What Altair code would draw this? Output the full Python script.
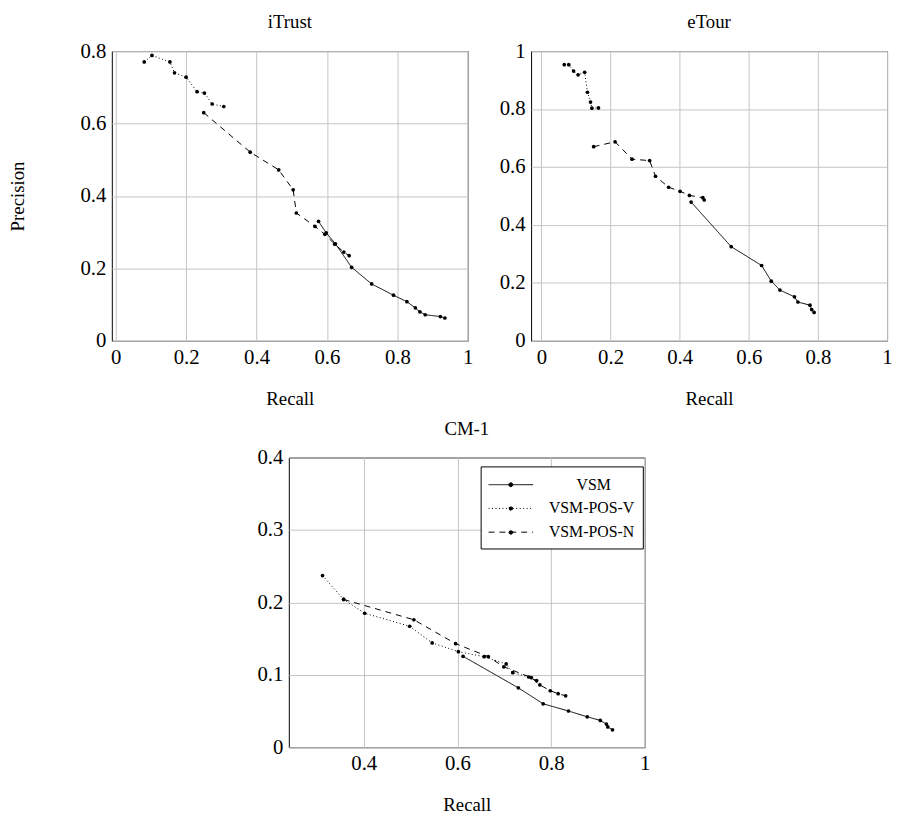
import altair as alt
import pandas as pd

series_names = ["VSM", "VSM-POS-V", "VSM-POS-N"]

# ---------------- iTrust ----------------
itrust_vsm_recall = [0.576, 0.598, 0.624, 0.670, 0.727, 0.789, 0.827, 0.851, 0.864, 0.879, 0.922, 0.935]
itrust_vsm_precision = [0.330, 0.298, 0.268, 0.203, 0.157, 0.126, 0.108, 0.091, 0.080, 0.072, 0.067, 0.063]
itrust_posv_recall = [0.081, 0.103, 0.154, 0.167, 0.200, 0.231, 0.252, 0.274, 0.307]
itrust_posv_precision = [0.770, 0.788, 0.770, 0.740, 0.728, 0.688, 0.684, 0.654, 0.647]
itrust_posn_recall = [0.250, 0.382, 0.463, 0.504, 0.513, 0.566, 0.594, 0.622, 0.648, 0.663]
itrust_posn_precision = [0.630, 0.521, 0.472, 0.417, 0.353, 0.316, 0.294, 0.267, 0.245, 0.235]

# ---------------- eTour ----------------
etour_vsm_recall = [0.433, 0.549, 0.637, 0.665, 0.690, 0.732, 0.742, 0.777, 0.782, 0.789]
etour_vsm_precision = [0.479, 0.325, 0.260, 0.206, 0.175, 0.152, 0.134, 0.123, 0.108, 0.098]
etour_posv_recall = [0.066, 0.079, 0.093, 0.106, 0.125, 0.133, 0.142, 0.146, 0.165]
etour_posv_precision = [0.953, 0.953, 0.931, 0.918, 0.927, 0.858, 0.824, 0.803, 0.804]
etour_posn_recall = [0.151, 0.213, 0.262, 0.313, 0.330, 0.368, 0.401, 0.428, 0.467, 0.471]
etour_posn_precision = [0.670, 0.687, 0.627, 0.622, 0.568, 0.530, 0.516, 0.502, 0.494, 0.486]

# ---------------- CM-1 ----------------
cm1_vsm_recall = [0.612, 0.730, 0.783, 0.837, 0.877, 0.905, 0.918, 0.921, 0.931]
cm1_vsm_precision = [0.1255, 0.082, 0.060, 0.050, 0.042, 0.037, 0.032, 0.028, 0.024]
cm1_posv_recall = [0.312, 0.357, 0.402, 0.498, 0.546, 0.602, 0.657, 0.704, 0.718, 0.752, 0.769]
cm1_posv_precision = [0.237, 0.204, 0.185, 0.167, 0.144, 0.132, 0.125, 0.115, 0.103, 0.097, 0.092]
cm1_posn_recall = [0.357, 0.507, 0.596, 0.666, 0.699, 0.758, 0.776, 0.798, 0.815, 0.831]
cm1_posn_precision = [0.204, 0.176, 0.143, 0.125, 0.111, 0.096, 0.086, 0.078, 0.074, 0.071]

# axis ticks
ticks_0_1 = [0, 0.2, 0.4, 0.6, 0.8, 1]
ticks_itrust_y = [0, 0.2, 0.4, 0.6, 0.8]
ticks_cm1_x = [0.4, 0.6, 0.8, 1]
ticks_cm1_y = [0, 0.1, 0.2, 0.3, 0.4]

FONT = "Liberation Serif"

# legend symbol: a 45px line with a small dot in the middle (pgfplots style)
LEGEND_SYMBOL = ("M-2.25,0L2.25,0"
                 "M0.2,0A0.2,0.2 0 1,1 -0.2,0A0.2,0.2 0 1,1 0.2,0")
# pgfplots centres the short "VSM" entry; pad it (zero-width char keeps the
# padding from being trimmed)
LEGEND_LABEL_EXPR = ("datum.label == 'VSM' ? "
                     "'\u200b\u00a0\u00a0\u00a0\u00a0\u00a0\u00a0\u00a0VSM' : datum.label")


def make_df(recalls, precisions):
    rows = []
    for name, rs, ps in zip(series_names, recalls, precisions):
        for i, (r, p) in enumerate(zip(rs, ps)):
            rows.append({"series": name, "recall": r, "precision": p, "idx": i})
    return pd.DataFrame(rows)


dash_scale = alt.Scale(domain=series_names, range=[[1, 0], [1, 2.5], [6, 5]])


def panel(df, title, xdom, xticks, ydom, yticks, ytitle, legend_x=None):
    x = alt.X("recall:Q", scale=alt.Scale(domain=xdom, nice=False, zero=False),
              axis=alt.Axis(values=xticks, format="~g", title="Recall"))
    yaxis_kwargs = dict(values=yticks, format="~g")
    yaxis_kwargs["title"] = ytitle if ytitle else None
    y = alt.Y("precision:Q", scale=alt.Scale(domain=ydom, nice=False, zero=False),
              axis=alt.Axis(**yaxis_kwargs))
    if legend_x is not None:
        leg = alt.Legend(title=None, orient="none", legendX=legend_x, legendY=9,
                         symbolType=LEGEND_SYMBOL, symbolSize=400, symbolStrokeWidth=1,
                         symbolStrokeColor="black", symbolFillColor="black",
                         symbolOffset=12,
                         labelFont=FONT, labelFontSize=16, labelColor="black",
                         labelOffset=28, labelExpr=LEGEND_LABEL_EXPR,
                         strokeColor="black", fillColor="white", padding=8,
                         rowPadding=5)
    else:
        leg = None
    base = alt.Chart(df)
    line = base.mark_line(color="black", strokeWidth=1).encode(
        x=x, y=y,
        strokeDash=alt.StrokeDash("series:N", scale=dash_scale, legend=leg),
        order="idx:Q",
    )
    pts = base.mark_circle(color="black", size=14, opacity=1).encode(
        x=x, y=y, detail="series:N")
    return alt.layer(line, pts).properties(
        width=360, height=293, title=alt.TitleParams(title))


df_itrust = make_df([itrust_vsm_recall, itrust_posv_recall, itrust_posn_recall],
                    [itrust_vsm_precision, itrust_posv_precision, itrust_posn_precision])
df_etour = make_df([etour_vsm_recall, etour_posv_recall, etour_posn_recall],
                   [etour_vsm_precision, etour_posv_precision, etour_posn_precision])
df_cm1 = make_df([cm1_vsm_recall, cm1_posv_recall, cm1_posn_recall],
                 [cm1_vsm_precision, cm1_posv_precision, cm1_posn_precision])

p1 = panel(df_itrust, "iTrust", [-0.011, 1], ticks_0_1, [0, 0.8], ticks_itrust_y, "Precision")
p2 = panel(df_etour, "eTour", [-0.03, 1], ticks_0_1, [0, 1], ticks_0_1, None)
p3 = panel(df_cm1, "CM-1", [0.24, 1], ticks_cm1_x, [0, 0.4], ticks_cm1_y, None, legend_x=373)

# invisible spacer that shifts the CM-1 panel to its place
spacer = alt.Chart(pd.DataFrame({"a": [0]})).mark_point(opacity=0).encode(
    x=alt.value(0), y=alt.value(0)
).properties(width=146, height=10, view=alt.ViewBackground(strokeOpacity=0))

top = alt.hconcat(p1, p2, spacing=25)
bottom = alt.hconcat(spacer, p3, spacing=0)
chart = alt.vconcat(top, bottom, spacing=10).resolve_legend(
    strokeDash="independent"
).resolve_scale(strokeDash="independent").properties(
    padding={"left": 0, "top": 0, "right": 0, "bottom": 0}
).configure_view(
    stroke="black", strokeWidth=1
).configure_axis(
    grid=True, gridColor="#c4c4c4", gridWidth=1, domain=False, ticks=False,
    labelFont=FONT, labelFontSize=21, labelColor="black", labelPadding=6,
    titleFont=FONT, titleFontSize=19, titleFontWeight="normal", titleColor="black",
    labelFlush=False, labelOverlap=False
).configure_axisX(
    titlePadding=22
).configure_axisY(
    titlePadding=53
).configure_title(
    font=FONT, fontSize=19, fontWeight="normal", color="black", offset=8
)

chart.save("out.html", embed_options={"renderer": "svg", "actions": False})
